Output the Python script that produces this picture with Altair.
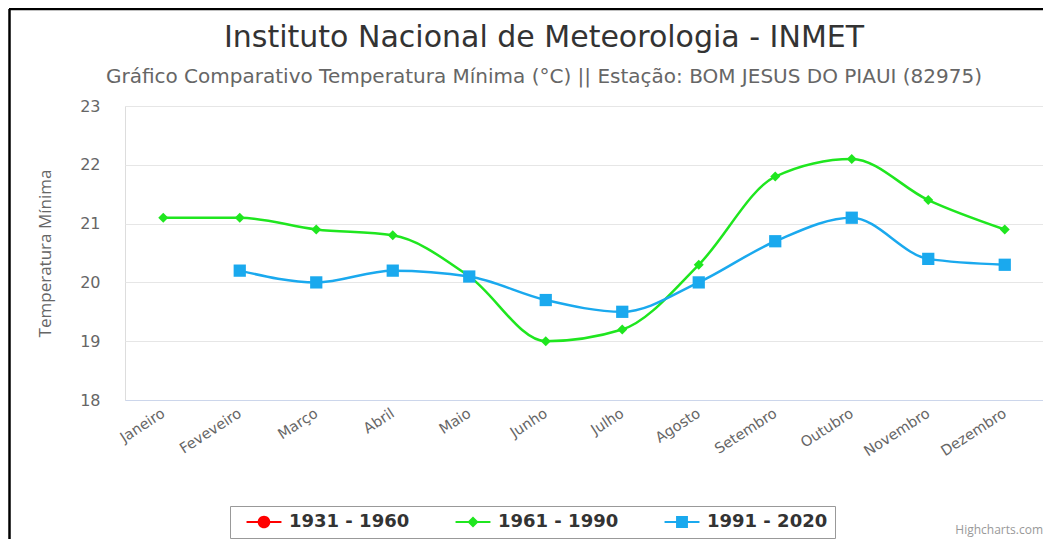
import altair as alt
import pandas as pd

months = ["Janeiro", "Feveveiro", "Março", "Abril", "Maio", "Junho", "Julho",
          "Agosto", "Setembro", "Outubro", "Novembro", "Dezembro"]
series_names = ["1931 - 1960", "1961 - 1990", "1991 - 2020"]
vals_1931 = [None] * 12
vals_1961 = [21.1, 21.1, 20.9, 20.8, 20.1, 19.0, 19.2, 20.3, 21.8, 22.1, 21.4, 20.9]
vals_1991 = [None, 20.2, 20.0, 20.2, 20.1, 19.7, 19.5, 20.0, 20.7, 21.1, 20.4, 20.3]
colors = ["#ff0000", "#1fe61f", "#1aa9ee"]
point_shapes = ["circle", "diamond", "square"]
point_sizes = [90, 100, 150]

rows = []
for name, vals in zip(series_names, [vals_1931, vals_1961, vals_1991]):
    for m, v in zip(months, vals):
        if v is not None:
            rows.append({"month": m, "series": name, "value": v})
df = pd.DataFrame(rows)

W, H = 918, 294

x_enc = alt.X("month:N", sort=months,
              scale=alt.Scale(domain=months, paddingInner=0, paddingOuter=0),
              axis=alt.Axis(title=None, labelAngle=-33, labelAlign="right",
                            labelBaseline="middle", labelPadding=12, ticks=False,
                            domainColor="#ccd6eb", domainWidth=1, grid=False,
                            labelFont="DejaVu Sans", labelFontSize=14.5,
                            labelColor="#666666"))
y_enc = alt.Y("value:Q",
              scale=alt.Scale(domain=[18, 23], nice=False, zero=False),
              axis=alt.Axis(title="Temperatura Mínima", values=[18, 19, 20, 21, 22, 23],
                            domain=False, ticks=False, grid=True, gridColor="#e6e6e6",
                            labelFont="DejaVu Sans", labelFontSize=16, labelColor="#666666",
                            labelPadding=25, titleFont="Open Sans", titleFontSize=17,
                            titleFontWeight="normal", titleColor="#666666",
                            titlePadding=25))

layers = []
for name, col, shp, sz in zip(series_names, colors, point_shapes, point_sizes):
    sub = alt.Chart(df).transform_filter(alt.datum.series == name)
    layers.append(sub.mark_line(interpolate="monotone", color=col, strokeWidth=2.5)
                  .encode(x=x_enc, y=y_enc))
    layers.append(sub.mark_point(filled=True, opacity=1, color=col, shape=shp, size=sz,
                                 strokeWidth=0)
                  .encode(x=x_enc, y=y_enc))

# legend symbols: line segment + marker; unit = 9 px (symbolSize 324 -> 18 px box)
line_part = "M-1.94,-0.12 L1.94,-0.12 L1.94,0.12 L-1.94,0.12 Z "
legend_paths = [
    line_part + "M-0.7,0 A0.7,0.7 0 1,1 0.7,0 A0.7,0.7 0 1,1 -0.7,0 Z",
    line_part + "M0,-0.62 L0.62,0 L0,0.62 L-0.62,0 Z",
    line_part + "M-0.66,-0.66 L0.66,-0.66 L0.66,0.66 L-0.66,0.66 Z",
]
legend_layer = alt.Chart(df).transform_filter("datum.value > 1000").mark_point(
    filled=True, opacity=1).encode(
    color=alt.Color("series:N", scale=alt.Scale(domain=series_names, range=colors),
                    legend=alt.Legend(title=None, orient="none", legendX=105, legendY=400,
                                      direction="horizontal", labelFont="DejaVu Sans",
                                      labelFontWeight="bold", labelFontSize=18,
                                      labelColor="#333333", symbolSize=324,
                                      symbolStrokeWidth=0, strokeColor="#999999",
                                      padding=7, columnPadding=36, labelOffset=16,
                                      symbolOffset=18, fillColor="white")),
    shape=alt.Shape("series:N", scale=alt.Scale(domain=series_names, range=legend_paths)),
)
layers.append(legend_layer)

one = pd.DataFrame({"t": ["Highcharts.com"]})
credit = alt.Chart(one).mark_text(align="right", baseline="alphabetic", font="Open Sans",
                                  fontSize=12, color="#999999").encode(
    text="t:N", x=alt.value(W), y=alt.value(428))
layers.append(credit)

border_top = alt.Chart(one).mark_rule(color="black", strokeWidth=2.5).encode(
    x=alt.value(-116), x2=alt.value(W + 10), y=alt.value(-97))
border_left = alt.Chart(one).mark_rule(color="black", strokeWidth=2.5).encode(
    x=alt.value(-115.5), y=alt.value(-97), y2=alt.value(H + 139))
layers += [border_top, border_left]

chart = alt.layer(*layers).properties(
    width=W, height=H,
    autosize=alt.AutoSizeParams(type="none"),
    padding={"left": 117, "top": 98, "right": 0, "bottom": 139},
    title=alt.TitleParams(
        text="Instituto Nacional de Meteorologia - INMET",
        subtitle="Gráfico Comparativo Temperatura Mínima (°C) || Estação: BOM JESUS DO PIAUI (82975)",
        anchor="middle", font="DejaVu Sans", fontSize=30, fontWeight="normal", color="#333333",
        subtitleFont="DejaVu Sans", subtitleFontSize=20, subtitleColor="#666666",
        subtitlePadding=14, offset=-79, dx=-40),
).configure_view(stroke=None).configure(background="white")

chart.save("out.html", embed_options={"renderer": "svg", "actions": False})
